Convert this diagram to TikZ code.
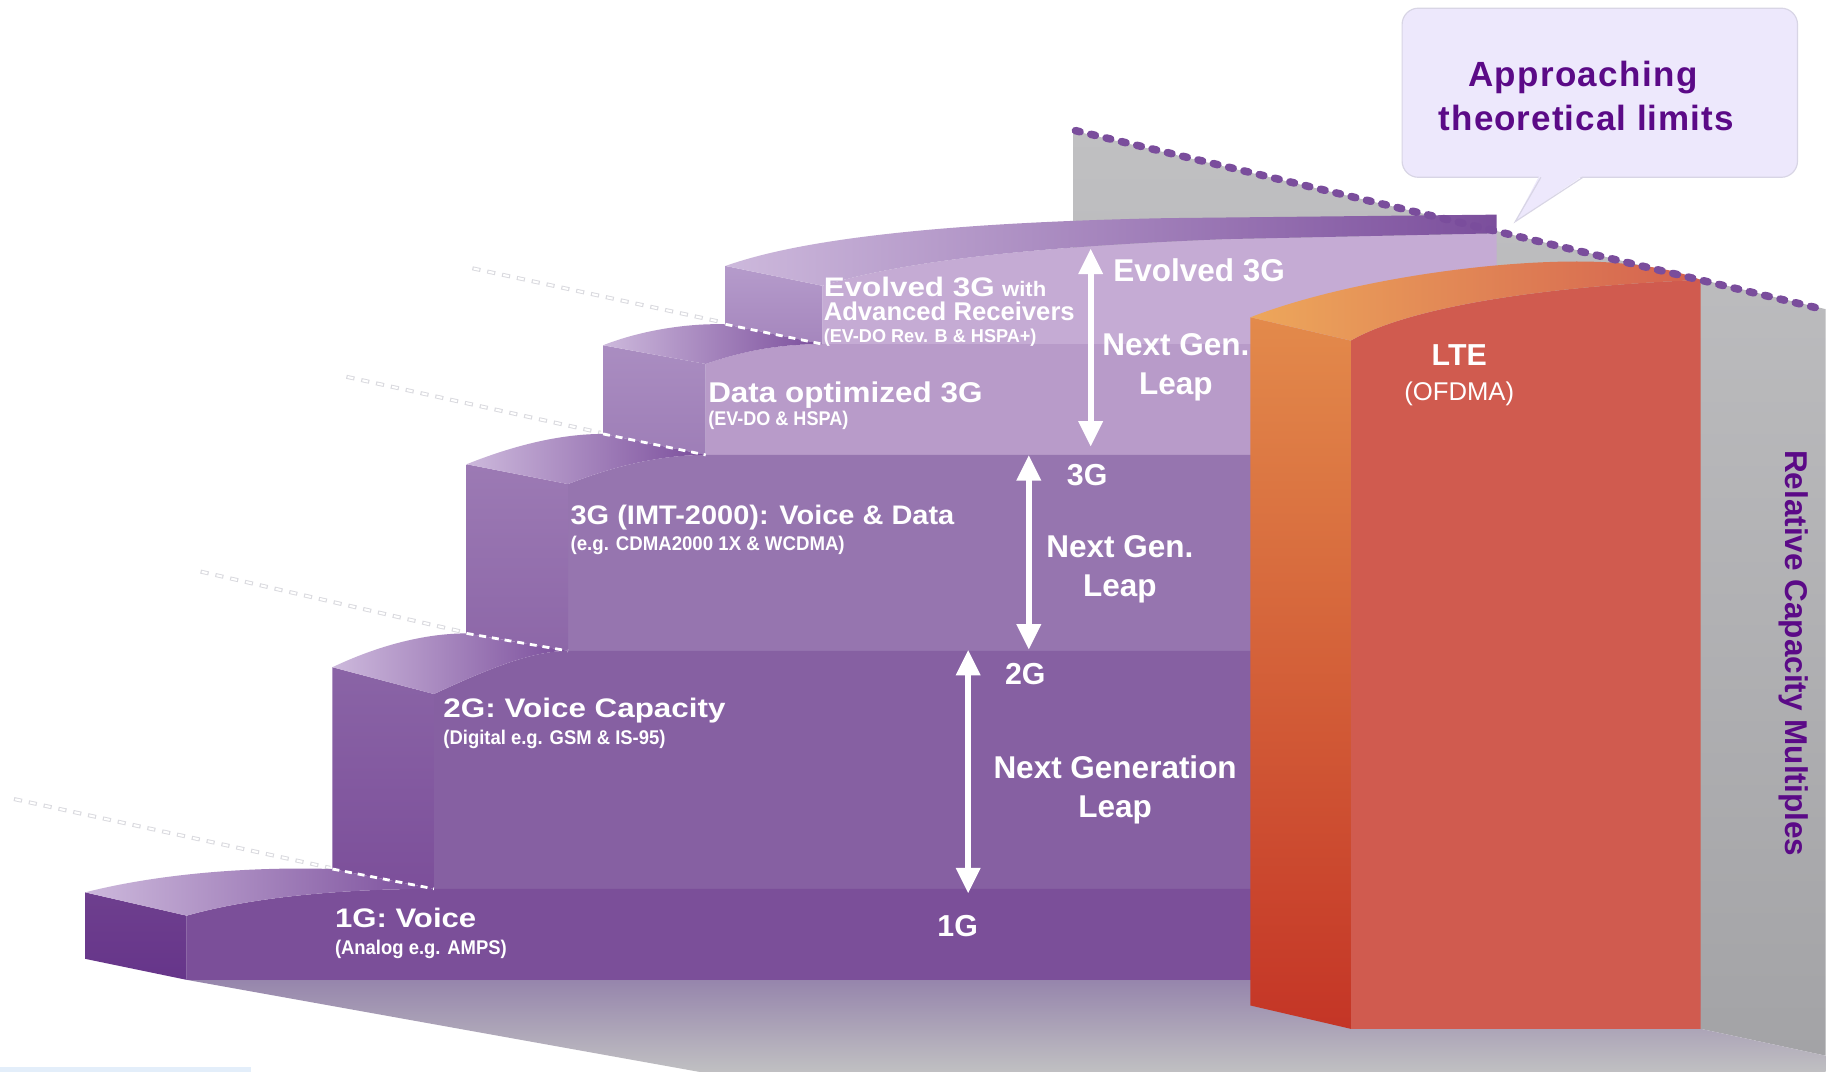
\documentclass[tikz,border=0pt]{standalone}
\usepackage{fontspec}
\usepackage{graphicx}
\setmainfont{Liberation Sans}
\usetikzlibrary{arrows.meta}
\newcommand\hs[2]{\scalebox{#1}[1]{#2}}
\definecolor{evface}{HTML}{C5ABD4}
\definecolor{evlA}{HTML}{B59BCB}
\definecolor{evlB}{HTML}{A586BD}
\definecolor{doface}{HTML}{B89BC9}
\definecolor{dolA}{HTML}{AA8DC1}
\definecolor{dolB}{HTML}{9E7EB7}
\definecolor{tgface}{HTML}{9675AF}
\definecolor{tglA}{HTML}{9C7AB4}
\definecolor{tglB}{HTML}{8D67A8}
\definecolor{sgface}{HTML}{8660A2}
\definecolor{sglA}{HTML}{8A64A6}
\definecolor{sglB}{HTML}{7C4F9A}
\definecolor{ogface}{HTML}{7B4F99}
\definecolor{oglA}{HTML}{6E3F8E}
\definecolor{oglB}{HTML}{66358A}
\definecolor{toplight}{HTML}{CDB9DC}
\definecolor{topmid}{HTML}{A283BC}
\definecolor{topdark}{HTML}{7B4E9C}
\definecolor{ltelA}{HTML}{E38A4B}
\definecolor{ltelB}{HTML}{C43526}
\definecolor{ltetA}{HTML}{EDA75B}
\definecolor{ltetB}{HTML}{D4614F}
\definecolor{lteface}{HTML}{D05B4F}
\definecolor{wallA}{HTML}{C0C0C2}
\definecolor{wallB}{HTML}{A3A3A6}
\definecolor{floorA}{HTML}{9685AC}
\definecolor{floorB}{HTML}{C0C0C2}
\definecolor{dotc}{HTML}{7A4D9C}
\definecolor{callfill}{HTML}{EDE8FC}
\definecolor{callline}{HTML}{D8D5E5}
\definecolor{calltext}{HTML}{5B0A87}
\definecolor{ghostc}{HTML}{DADADF}
\definecolor{bluebar}{HTML}{E3EEFA}
\begin{document}
\begin{tikzpicture}[x=1pt,y=-1pt,
  txt/.style={inner sep=0pt, text=white, font=\bfseries},
  lab/.style={txt, anchor=base west},
  ctr/.style={txt, anchor=base},
  leap/.style={draw=white, line width=5pt, {Triangle[width=20pt,length=22pt]}-{Triangle[width=20pt,length=22pt]}},
  ghostout/.style={draw=ghostc, line width=3.4pt, dash pattern=on 7pt off 6pt},
  ghostin/.style={draw=white, line width=1.8pt, dash pattern=on 5pt off 8pt, dash phase=12pt},
  wdash/.style={draw=white, line width=2.4pt, dash pattern=on 6pt off 5pt},
  dotline/.style={draw=dotc, line width=6.5pt, line cap=round, dash pattern=on 4pt off 9.5pt}
]
\useasboundingbox (0,0) rectangle (1568,919);
\fill[white] (0,0) rectangle (1568,919);
% wall and floor
\shade[top color=wallA, bottom color=wallB] (920,112) -- (1565,265) -- (1565,905) -- (1458,882) -- (920,882) -- cycle;
\shade[top color=floorA, bottom color=floorB] (160,840) -- (1458,840) -- (1458,882) -- (1565,905) -- (1565,919) -- (600,919) -- cycle;
\fill[bluebar] (0,915) rectangle (215,919);
% ghost lines
\coordinate (g1a) at (405,230); \coordinate (g1b) at (618,276);
\coordinate (g2a) at (297,323); \coordinate (g2b) at (515,371);
\coordinate (g3a) at (172,490); \coordinate (g3b) at (398,542);
\coordinate (g4a) at (12,685);  \coordinate (g4b) at (283,744);
\foreach \a/\b in {g1a/g1b,g2a/g2b,g3a/g3b,g4a/g4b}{
  \draw[ghostout] (\a) -- (\b);
  \draw[ghostin] (\a) -- (\b);
}
% Evolved 3G step
\fill[evface] (705,245) .. controls (780,222) and (900,211) .. (1050,205) -- (1283,200) -- (1283,300) -- (705,300) -- cycle;
\shade[top color=evlA, bottom color=evlB] (622,228) -- (705,245) -- (705,295) -- (622,278) -- cycle;
\shade[left color=toplight, middle color=topmid, right color=topdark] (622,228) .. controls (700,200) and (850,190) .. (1000,187) -- (1283,184) -- (1283,200) -- (1050,205) .. controls (900,211) and (780,222) .. (705,245) -- cycle;
% Data optimized step
\fill[doface] (605,312) .. controls (640,300) and (670,295) .. (705,295) -- (1075,295) -- (1075,392) -- (605,392) -- cycle;
\shade[top color=dolA, bottom color=dolB] (517,296) -- (605,312) -- (605,390) -- (517,372) -- cycle;
\shade[left color=toplight, right color=topdark] (517,296) .. controls (550,283) and (590,277) .. (622,278) -- (705,295) .. controls (670,295) and (640,300) .. (605,312) -- cycle;
% 3G step
\fill[tgface] (487,415) .. controls (530,398) and (570,390) .. (605,390) -- (1075,390) -- (1075,560) -- (487,560) -- cycle;
\shade[top color=tglA, bottom color=tglB] (400,398) -- (487,415) -- (487,558) -- (400,543) -- cycle;
\shade[left color=toplight, right color=topdark] (400,398) .. controls (440,382) and (480,372) .. (517,372) -- (605,390) .. controls (570,390) and (530,398) .. (487,415) -- cycle;
% 2G step
\fill[sgface] (372,595) .. controls (415,575) and (455,558) .. (487,558) -- (1075,558) -- (1075,764) -- (372,764) -- cycle;
\shade[top color=sglA, bottom color=sglB] (285,572) -- (372,595) -- (372,762) -- (285,745) -- cycle;
\shade[left color=toplight, right color=topdark] (285,572) .. controls (325,553) and (365,543) .. (400,543) -- (487,558) .. controls (455,558) and (415,575) .. (372,595) -- cycle;
% 1G step
\fill[ogface] (160,785) .. controls (220,768) and (300,762) .. (372,762) -- (1075,762) -- (1075,840) -- (160,840) -- cycle;
\shade[top color=oglA, bottom color=oglB] (73,765) -- (160,785) -- (160,840) -- (73,822) -- cycle;
\shade[left color=toplight, right color=topdark] (73,765) .. controls (140,748) and (220,743) .. (285,745) -- (372,762) .. controls (300,762) and (220,768) .. (160,785) -- cycle;
% white dashes on step tops
\coordinate (w1a) at (622,278); \coordinate (w1b) at (705,295);
\coordinate (w2a) at (517,372); \coordinate (w2b) at (605,390);
\coordinate (w3a) at (400,543); \coordinate (w3b) at (487,558);
\coordinate (w4a) at (285,745); \coordinate (w4b) at (372,762);
\foreach \a/\b in {w1a/w1b,w2a/w2b,w3a/w3b,w4a/w4b}{\draw[wdash] (\a) -- (\b);}
% LTE block
\fill[lteface] (1158,292) .. controls (1210,262) and (1330,245) .. (1458,240) -- (1458,882) -- (1158,882) -- cycle;
\shade[top color=ltelA, bottom color=ltelB] (1072,272) -- (1158,292) -- (1158,882) -- (1072,862) -- cycle;
\shade[left color=ltetA, right color=ltetB] (1072,272) .. controls (1160,238) and (1300,220) .. (1380,225) .. controls (1420,228) and (1440,233) .. (1458,240) .. controls (1330,245) and (1210,262) .. (1158,292) -- cycle;
% dotted limit line
\coordinate (lim1) at (922,112); \coordinate (lim2) at (1562,265);
\draw[dotline] (lim1) -- (lim2);
% arrows
\coordinate (a1t) at (830,557); \coordinate (a1b) at (830,766);
\coordinate (a2t) at (882,390); \coordinate (a2b) at (882,557);
\coordinate (a3t) at (935,213); \coordinate (a3b) at (935,383);
\draw[leap] (a1b) -- (a1t);
\draw[leap] (a2b) -- (a2t);
\draw[leap] (a3b) -- (a3t);
% step labels
\node[lab] (n1g) at (287,795) {\fontsize{23}{27}\selectfont\hs{1.16}{1G: Voice}};
\node[lab] (n1gs) at (287,818) {\fontsize{17}{20}\selectfont\hs{0.93}{(Analog e.g. AMPS)}};
\node[lab] (n2g) at (380,615) {\fontsize{23}{27}\selectfont\hs{1.17}{2G: Voice Capacity}};
\node[lab] (n2gs) at (380,638) {\fontsize{17}{20}\selectfont\hs{0.93}{(Digital e.g. GSM \& IS-95)}};
\node[lab] (n3g) at (489,450) {\fontsize{23}{27}\selectfont\hs{1.08}{3G (IMT-2000): Voice \& Data}};
\node[lab] (n3gs) at (489,472) {\fontsize{17}{20}\selectfont\hs{0.94}{(e.g. CDMA2000 1X \& WCDMA)}};
\node[lab] (ndo) at (607,345) {\fontsize{24.5}{29}\selectfont\hs{1.1}{Data optimized 3G}};
\node[lab] (ndos) at (607,365) {\fontsize{17}{20}\selectfont\hs{0.91}{(EV-DO \& HSPA)}};
\node[lab] (nev1) at (706,254) {\fontsize{23}{27}\selectfont\hs{1.17}{Evolved 3G} {\fontsize{18}{21}\selectfont\hs{1.05}{with}}};
\node[lab] (nev2) at (706,275) {\fontsize{22}{26}\selectfont\hs{1.0}{Advanced Receivers}};
\node[lab] (nev3) at (706,294) {\fontsize{16}{19}\selectfont\hs{0.97}{(EV-DO Rev. B \& HSPA+)}};
% leap labels
\node[ctr] (nevr) at (1028,241) {\fontsize{27}{32}\selectfont Evolved 3G};
\node[ctr] (ng1a) at (1008,305) {\fontsize{27}{32}\selectfont Next Gen.};
\node[ctr] (ng1b) at (1008,338) {\fontsize{27}{32}\selectfont Leap};
\node[ctr] (ng2a) at (960,478) {\fontsize{27}{32}\selectfont Next Gen.};
\node[ctr] (ng2b) at (960,511) {\fontsize{27}{32}\selectfont Leap};
\node[ctr] (ng3a) at (956,667) {\fontsize{27}{32}\selectfont Next Generation};
\node[ctr] (ng3b) at (956,701) {\fontsize{27}{32}\selectfont Leap};
\node[ctr] (l1) at (821,803) {\fontsize{26}{30}\selectfont 1G};
\node[ctr] (l2) at (879,587) {\fontsize{26}{30}\selectfont 2G};
\node[ctr] (l3) at (932,416) {\fontsize{26}{30}\selectfont 3G};
% LTE labels
\node[ctr] (lte) at (1251,313) {\fontsize{26}{30}\selectfont LTE};
\node[ctr, font=\mdseries] (ofdma) at (1251,343) {\fontsize{22}{26}\selectfont (OFDMA)};
% side label
\node[inner sep=0pt, text=calltext, font=\bfseries, rotate=-90] (rcm) at (1538,560) {\fontsize{27}{32}\selectfont Relative Capacity Multiples};
% callout
\draw[draw=callline, fill=callfill, line width=1pt, rounded corners=14pt] (1202,7) rectangle (1541,152);
\fill[callfill] (1320,150) -- (1299,190) -- (1358,150) -- cycle;
\draw[callline, line width=1pt] (1321,152) -- (1299,190) -- (1357,152);
\node[inner sep=0pt, anchor=base, text=calltext, font=\bfseries] (ap1) at (1357,74) {\fontsize{30}{36}\selectfont\addfontfeature{LetterSpace=4}Approaching};
\node[inner sep=0pt, anchor=base, text=calltext, font=\bfseries] (ap2) at (1360,112) {\fontsize{30}{36}\selectfont\addfontfeature{LetterSpace=3}theoretical limits};
\end{tikzpicture}
\end{document}
